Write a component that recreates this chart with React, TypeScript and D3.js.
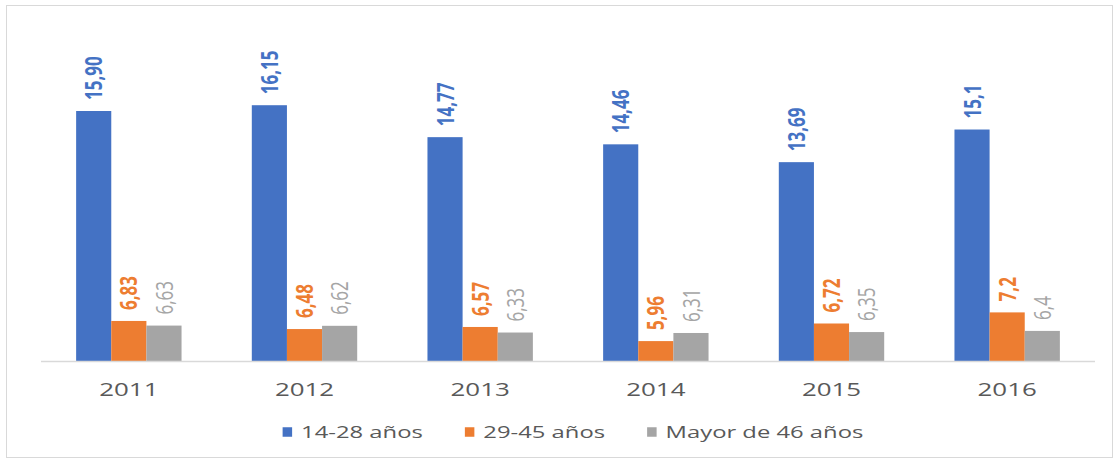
import React from "react";
import * as d3 from "d3";

const years = ["2011", "2012", "2013", "2014", "2015", "2016"];
const seriesNames = ["14-28 años", "29-45 años", "Mayor de 46 años"];
const young = [15.9, 16.15, 14.77, 14.46, 13.69, 15.1];
const middle = [6.83, 6.48, 6.57, 5.96, 6.72, 7.2];
const older = [6.63, 6.62, 6.33, 6.31, 6.35, 6.4];
const youngLabels = ["15,90", "16,15", "14,77", "14,46", "13,69", "15,1"];
const middleLabels = ["6,83", "6,48", "6,57", "5,96", "6,72", "7,2"];
const olderLabels = ["6,63", "6,62", "6,33", "6,31", "6,35", "6,4"];
const colors = ["#4472C4", "#ED7D31", "#A5A5A5"];

const W = 1117;
const H = 461;
const SX = 1.4;
const FONT = "'Open Sans', 'DejaVu Sans', sans-serif";

function measure(text: string, font: string): number {
  const c = document.createElement("canvas").getContext("2d");
  if (!c) return text.length * 8;
  c.font = font;
  return c.measureText(text).width;
}

export default function App() {
  const series = [
    { name: seriesNames[0], values: young, labels: youngLabels, color: colors[0], bold: true },
    { name: seriesNames[1], values: middle, labels: middleLabels, color: colors[1], bold: true },
    { name: seriesNames[2], values: older, labels: olderLabels, color: colors[2], bold: false },
  ];

  const x0 = d3.scaleBand<string>().domain(years).range([41, 1095]).padding(0);
  const bw = x0.bandwidth();
  const x1 = d3
    .scaleBand<number>()
    .domain([0, 1, 2])
    .range([bw * 0.2, bw * 0.8])
    .padding(0);
  const y = d3.scaleLinear().domain([5.1, 15.9]).range([361, 111]);
  const baseY = y(5.1);

  // legend layout
  const legendFontSize = 17;
  const sq = 9.5;
  const gapSq = 9;
  const itemGap = 42;
  const widths = seriesNames.map(
    (n) => measure(n, `${legendFontSize}px ${FONT}`) * SX
  );
  const total =
    widths.reduce((a, b) => a + b, 0) + series.length * (sq + gapSq) + itemGap * (series.length - 1);
  let cursor = 573 - total / 2;
  const legendItems = series.map((s, i) => {
    const item = { x: cursor, w: widths[i], s };
    cursor += sq + gapSq + widths[i] + itemGap;
    return item;
  });
  const legendY = 432;

  return (
    <svg
      width={W}
      height={H}
      style={{ position: "absolute", left: 0, top: 0, background: "#fff" }}
      fontFamily={FONT}
    >
      <rect x={0} y={0} width={W} height={H} fill="#fff" />
      <rect x={6.5} y={5.5} width={1106} height={452} fill="none" stroke="#d9d9d9" strokeWidth={1} />

      {years.map((yr) => (
        <g key={yr} transform={`translate(${x0(yr)},0)`}>
          {series.map((s, si) => {
            const v = s.values[years.indexOf(yr)];
            const bx = x1(si) as number;
            return (
              <rect
                key={si}
                x={bx}
                y={y(v)}
                width={x1.bandwidth()}
                height={baseY - y(v)}
                fill={s.color}
              />
            );
          })}
          {series.map((s, si) => {
            const idx = years.indexOf(yr);
            const v = s.values[idx];
            const cx = (x1(si) as number) + x1.bandwidth() / 2;
            return (
              <text
                key={"l" + si}
                transform={`translate(${cx},${y(v) - 11}) scale(${SX},1) rotate(-90)`}
                textAnchor="start"
                dy="0.36em"
                fontSize={17}
                fontWeight={s.bold ? 700 : 400}
                fill={s.color}
              >
                {s.labels[idx]}
              </text>
            );
          })}
        </g>
      ))}

      <line x1={41} x2={1095} y1={baseY + 0.5} y2={baseY + 0.5} stroke="#d9d9d9" strokeWidth={1.5} />

      {years.map((yr) => (
        <text
          key={"t" + yr}
          transform={`translate(${(x0(yr) as number) + bw / 2},396) scale(${SX},1)`}
          textAnchor="middle"
          fontSize={18.5}
          fill="#595959"
        >
          {yr}
        </text>
      ))}

      {legendItems.map((it, i) => (
        <g key={"lg" + i}>
          <rect x={it.x} y={legendY - sq / 2} width={sq} height={sq} fill={it.s.color} />
          <text
            transform={`translate(${it.x + sq + gapSq},${legendY}) scale(${SX},1)`}
            dy="0.36em"
            fontSize={legendFontSize}
            fill="#595959"
          >
            {it.s.name}
          </text>
        </g>
      ))}
    </svg>
  );
}
